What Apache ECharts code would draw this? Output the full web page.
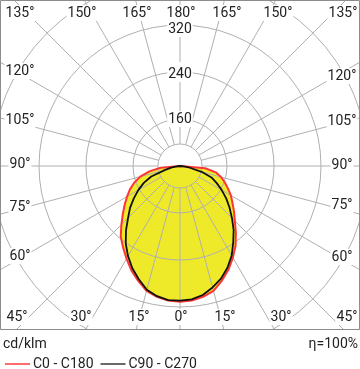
<!DOCTYPE html>
<html>
<head>
<meta charset="utf-8">
<script src="https://cdn.jsdelivr.net/npm/echarts@6/dist/echarts.min.js"></script>
<style>
html,body{margin:0;padding:0;background:#fff;}
#chart{width:360px;height:369px;}
</style>
</head>
<body>
<div id="chart"></div>
<script>
// gamma angles (degrees from nadir)
const gammaAngles = [0,5,10,15,20,25,30,35,40,45,50,55,60,65,70,75,80,85,90];
// cd/klm values
const c0   = [311,310,306,300,288,275,260,245,228,212,200,189,180,170,161,152,142,123,80];
const c180 = [311,310,306,300,288,276,262,249,237,221,207,195,184,174,163,150,133,113,80];
const c90  = [309,308,303,294,284,271,256,238,222,205,190,176,162,149,137,118,97,87,80];
const c270 = [309,309,305,298,285,272,257,241,223,205,191,176,162,148,132,107,94,85,80];
const radiusTicks = [80,160,240,320,400];
const angleLabelTexts = ['0°','15°','30°','45°','60°','75°','90°','105°','120°','135°','150°','165°','180°'];
const seriesNames = ['C0 - C180','C90 - C270'];
const unitText = 'cd/klm';
const effText = 'η=100%';

// build polar data: angle measured clockwise from top (180 - g right side, 180 + g left side)
function plane(right, left){
  const d = [];
  for (let i = gammaAngles.length-1; i >= 0; i--) d.push([right[i], 180 - gammaAngles[i]]);
  for (let i = 1; i < gammaAngles.length; i++) d.push([left[i], 180 + gammaAngles[i]]);
  return d;
}
const redData = plane(c0, c180);
const blackData = plane(c90, c270);

const CX = 180, CY = 166;
const FONT = '14px Roboto';

// angle label layout (text index into angleLabelTexts, x, y)
const labelLayout = [
  [9,20,13],[10,82,13],[11,137,13],[12,181,13],[11,227,13],[10,278,13],[9,343,13],
  [8,20,71],[7,20,120],[6,20,164],[5,20,207],[4,20,256],[3,17,317],
  [8,342,76],[7,342,121],[6,342,165],[5,342,205],[4,342,257],[3,347,317],
  [2,81,317],[1,139,317],[0,181,317],[1,225,317],[2,281,317]
];

const graphics = [
  {type:'rect', z:7, shape:{x:0,y:330,width:360,height:39}, style:{fill:'#fff'}},
  {type:'rect', z:8, shape:{x:0.5,y:0.5,width:359,height:329}, style:{fill:'none', stroke:'#8c8c8c', lineWidth:1}}
];
labelLayout.forEach(l => {
  graphics.push({type:'text', z:9, x:l[1], y:l[2], style:{text:angleLabelTexts[l[0]], font:FONT, fill:'#222', align:'center', verticalAlign:'middle', backgroundColor:'#fff', padding:[1,1]}});
});
graphics.push({type:'text', z:9, x:3, y:344, style:{text:unitText, font:FONT, fill:'#222', align:'left', verticalAlign:'middle'}});
graphics.push({type:'text', z:9, x:358, y:344, style:{text:effText, font:FONT, fill:'#222', align:'right', verticalAlign:'middle'}});

// small downward nudges for radius labels
const rich = {};
radiusTicks.forEach((v, i) => {
  rich['s' + v] = {fontFamily:'Roboto', fontSize:14, color:'#222', padding:[Math.max(0, (i - 1) * 4), 0, 0, 0]};
});

const chart = echarts.init(document.getElementById('chart'), null, {renderer:'canvas'});
chart.setOption({
  animation:false,
  backgroundColor:'#fff',
  polar:[
    {center:[CX,CY], radius:[22,260]},
    {center:[CX,CY], radius:188}
  ],
  angleAxis:[
    {polarIndex:0, type:'value', min:0, max:360, interval:15, startAngle:90, clockwise:true, z:3,
     axisLine:{show:false}, axisTick:{show:false}, axisLabel:{show:false},
     splitLine:{show:true, lineStyle:{color:'#b0b0b0', width:1}}},
    {polarIndex:1, type:'value', min:0, max:360, interval:15, startAngle:90, clockwise:true,
     axisLine:{show:false}, axisTick:{show:false}, axisLabel:{show:false}, splitLine:{show:false}}
  ],
  radiusAxis:[
    {polarIndex:0, type:'value', min:0, max:1, interval:1, z:3,
     axisLine:{show:false}, axisTick:{show:false}, axisLabel:{show:false},
     splitLine:{show:true, lineStyle:{color:'#b0b0b0', width:1}}},
    {polarIndex:1, type:'value', min:radiusTicks[0], max:radiusTicks[radiusTicks.length-1], interval:radiusTicks[1]-radiusTicks[0], z:4,
     axisLine:{show:false}, axisTick:{show:false},
     axisLabel:{showMinLabel:false, showMaxLabel:false, margin:0, align:'center', verticalAlign:'middle',
       backgroundColor:'#fff', padding:[1,1,1,1], fontFamily:'Roboto', fontSize:14, color:'#222',
       formatter: v => '{s' + v + '|' + v + '}', rich: rich},
     splitLine:{show:true, lineStyle:{color:'#b0b0b0', width:1}}}
  ],
  legend:{data:seriesNames, left:0, top:352, icon:'rect', itemWidth:25, itemHeight:1.6, itemGap:7, z:10,
    textStyle:{fontFamily:'Roboto', fontSize:14, color:'#222', padding:[0,0,0,-2]}},
  series:[
    {type:'line', name:'fill', coordinateSystem:'polar', polarIndex:1, data:redData, symbol:'none', silent:true,
     lineStyle:{width:0}, areaStyle:{color:'#eeea2a', opacity:1}, z:1},
    {type:'line', name:seriesNames[0], coordinateSystem:'polar', polarIndex:1, data:redData, symbol:'none',
     lineStyle:{color:'#ff3535', width:2}, itemStyle:{color:'#ff4a4a'}, z:5},
    {type:'line', name:seriesNames[1], coordinateSystem:'polar', polarIndex:1, data:blackData, symbol:'none',
     lineStyle:{color:'#111', width:1.8}, itemStyle:{color:'#444'}, z:6}
  ],
  graphic:{elements:graphics}
});
</script>
</body>
</html>
